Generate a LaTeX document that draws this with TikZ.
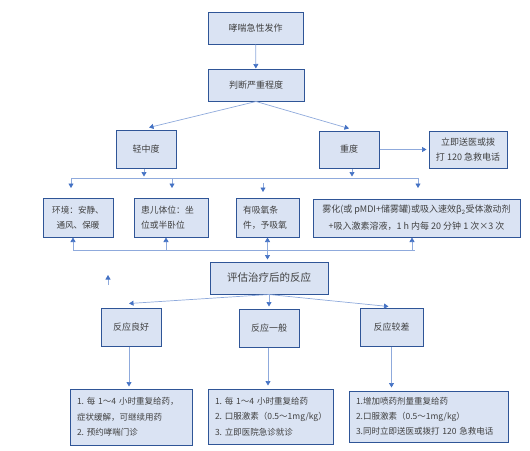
\documentclass[tikz,border=0pt]{standalone}
\usepackage{fontspec}
\setmainfont{Noto Sans CJK SC}
\usepackage{xcolor}
\definecolor{boxfill}{HTML}{DAE3F3}
\definecolor{boxedge}{HTML}{2F5597}
\definecolor{flowline}{HTML}{8FAADC}
\definecolor{flowtip}{HTML}{4472C4}
\definecolor{ink}{HTML}{404040}
\usetikzlibrary{arrows.meta, positioning, calc}

\begin{document}
\begin{tikzpicture}[
  x=1pt, y=-1pt,
  font=\fontsize{9}{15}\selectfont,
  >={Triangle[length=4.5pt, width=5pt, color=flowtip]},
  box/.style={
    draw=boxedge, line width=1pt, fill=boxfill, text=ink,
    inner sep=0pt, align=center
  },
  note/.style={box, align=left, inner xsep=7pt},
  flow/.style={flowline, line width=0.7pt, ->},
  bus/.style={flowline, line width=0.7pt}
]
  \useasboundingbox (0,0) rectangle (530,450);

  % severity
  \node[box, minimum width=95pt, minimum height=32pt] (start) at (255.5,28) {哮喘急性发作};
  \node[box, minimum width=96pt, minimum height=32pt] (judge) at (256,85) {判断严重程度};
  \node[box, minimum width=60pt, minimum height=38pt] (mild) at (146,149) {轻中度};
  \node[box, minimum width=60pt, minimum height=37pt] (severe) at (349,149.5) {重度};
  \node[box, minimum width=78pt, minimum height=37pt, font=\fontsize{9}{14.5}\selectfont]
    (call) at (468,149.5) {立即送医或拨\\打~120~急救电话};

  % first aid
  \node[box, minimum width=70pt, minimum height=39pt, font=\fontsize{8.6}{15}\selectfont]
    (env) at (78,217.5) {环境：安静、\\通风、保暖};
  \node[note, text width=60pt, minimum height=39pt, font=\fontsize{8.8}{15}\selectfont]
    (pos) at (171,217.5) {患儿体位：坐\\位或半卧位};
  \node[note, text width=49pt, minimum height=39pt, font=\fontsize{8.8}{15}\selectfont]
    (oxy) at (267.5,217.5) {有吸氧条\\件，予吸氧};
  \node[box, minimum width=207pt, minimum height=38pt, font=\fontsize{9}{17}\selectfont]
    (neb) at (416.5,218) {雾化(或~pMDI+储雾罐)或吸入速效β\textsubscript{2}受体激动剂\\+吸入激素溶液，1~h~内每~20~分钟~1~次×3~次};

  % response
  \node[box, minimum width=118pt, minimum height=32pt, font=\fontsize{10.5}{15}\selectfont]
    (eval) at (269,278) {评估治疗后的反应};
  \node[box, minimum width=60pt, minimum height=38pt] (good) at (131,327) {反应良好};
  \node[box, minimum width=60pt, minimum height=38pt] (fair) at (269,328) {反应一般};
  \node[box, minimum width=63pt, minimum height=38pt] (poor) at (391.5,327) {反应较差};

  \node[note, text width=108pt, minimum height=56pt, font=\fontsize{8.5}{15.5}\selectfont]
    (goodplan) at (131,417) {1.~每~1～4~小时重复给药，\\症状缓解，可继续用药\\2.~预约哮喘门诊};
  \node[note, text width=111pt, minimum height=55pt, font=\fontsize{8.5}{15.5}\selectfont]
    (fairplan) at (270.5,416.5) {1.~每~1～4~小时重复给药\\2.~口服激素（0.5～1mg/kg）\\3.~立即医院急诊就诊};
  \node[note, text width=145pt, minimum height=51pt, font=\fontsize{8.5}{15}\selectfont]
    (poorplan) at (428.5,416.5) {1.增加喷药剂量重复给药\\2.口服激素（0.5～1mg/kg）\\3.同时立即送医或拨打~120~急救电话};

  % connectors
  \draw[flow] (start) -- (judge);
  \draw[flow] (judge.south) -- ([xshift=3pt, yshift=2pt]mild.north);
  \draw[flow] (judge.south) -- ([yshift=2pt]severe.north);
  \draw[flow, shorten >=2pt] (severe) -- (call);

  \coordinate (busl) at (71,178);
  \coordinate (busr) at (418,178);
  \draw[bus] (busl) -- (busr);
  \draw[flow, shorten >=1.5pt] ([xshift=-2pt]mild.south) -- ([xshift=-2pt]mild.south |- busl);
  \draw[flow, shorten >=1.5pt] ([xshift=3pt]severe.south) -- ([xshift=3pt]severe.south |- busl);
  \draw[flow] (busl) -- ++(0,10);
  \draw[flow] ([xshift=1pt]pos.north |- busl) -- ++(0,10);
  \draw[flow] (busr) -- ++(0,10);
  \coordinate (oxyin) at (263,183);
  \draw[flow] (oxyin) -- ++(0,9);

  \coordinate (lowl) at (73,250);
  \coordinate (lowr) at (415,250);
  \draw[bus] (lowl) -- (lowr);
  \draw[flow] (lowl) -- (lowl |- env.south);
  \draw[flow] ([xshift=-5pt]pos.south |- lowl) -- ([xshift=-5pt]pos.south);
  \draw[flow] ([xshift=-4.5pt]neb.south |- lowl) -- ([xshift=-4.5pt]neb.south);
  \draw[flowline, line width=0.7pt, <->, shorten >=2pt] (oxy.south) -- (oxy.south |- eval.north);

  \coordinate (stray) at (108,285);
  \draw[flow] (stray) -- ++(0,-10);

  \draw[flow] (eval.south) -- ([xshift=-2pt, yshift=4pt]good.north);
  \draw[flow] (eval.south) -- ([yshift=2pt]fair.north);
  \draw[flow] (eval.south) -- ([xshift=-3pt, yshift=1pt]poor.north);

  \draw[flow, shorten >=2pt] ([xshift=-2pt]good.south) -- ([xshift=-2pt]good.south |- goodplan.north);
  \draw[flow, shorten >=3pt] ([xshift=-1pt]fair.south) -- ([xshift=-1pt]fair.south |- fairplan.north);
  \draw[flow, shorten >=3pt] (poor.south) -- (poor.south |- poorplan.north);
\end{tikzpicture}
\end{document}
